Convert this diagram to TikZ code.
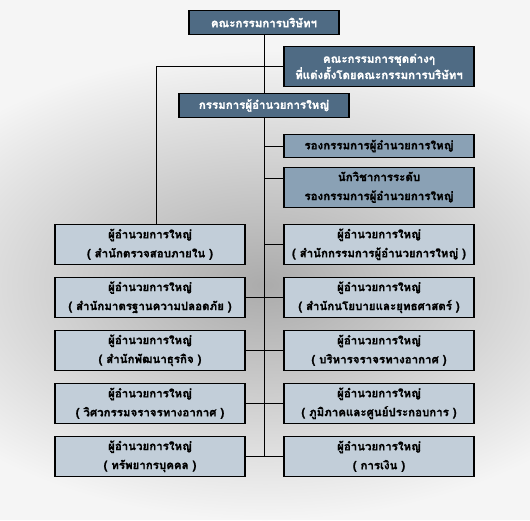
\documentclass[tikz,border=0pt]{standalone}
\usepackage{fontspec}
\newfontfamily\thaifont[Script=Thai,BoldFeatures={FakeBold=1.2}]{Loma}
\definecolor{bgout}{HTML}{F5F5F5}
\definecolor{bgin}{HTML}{ABABAB}
\definecolor{bgmid}{HTML}{CBCBCB}
\definecolor{darkfill}{HTML}{4F6B84}
\definecolor{midfill}{HTML}{8AA1B5}
\definecolor{lightfill}{HTML}{C2CED9}
\pgfdeclareradialshading{bgshade}{\pgfpointorigin}{color(0bp)=(bgin); color(11bp)=(bgmid); color(25bp)=(bgout); color(50bp)=(bgout)}
\tikzset{
  box/.style={draw=black, line width=1.1pt, inner sep=0pt, align=center,
    font=\thaifont\bfseries\fontsize{11.5}{19}\selectfont},
  darkbox/.style={box, fill=darkfill, text=white},
  midbox/.style={box, fill=midfill, text=black, minimum width=190pt},
  lightbox/.style={box, fill=lightfill, text=black, minimum width=190pt, minimum height=40pt},
  conn/.style={draw=black, line width=1pt},
}
\begin{document}
\begin{tikzpicture}[x=1pt,y=-1pt]
\useasboundingbox (0,0) rectangle (530,520);
\fill[bgout] (0,0) rectangle (530,520);
\shade[shading=bgshade] (265,285) ellipse [x radius=400pt, y radius=235pt];

\node[darkbox, minimum width=150pt, minimum height=23.6pt] (b1) at (264,22.5) {คณะกรรมการบริษัทฯ};
\node[darkbox, minimum width=190pt, minimum height=39.6pt,
      font=\thaifont\bfseries\fontsize{11.5}{14.4}\selectfont] (b2) at (379,66.5)
      {คณะกรรมการชุดต่างๆ\\ที่แต่งตั้งโดยคณะกรรมการบริษัทฯ};
\node[darkbox, minimum width=170pt, minimum height=23.6pt] (b3) at (264,105.5) {กรรมการผู้อำนวยการใหญ่};
\node[midbox, minimum height=22.6pt] (b4) at (379,146) {รองกรรมการผู้อำนวยการใหญ่};
\node[midbox, minimum height=40pt] (b5) at (379,187.3) {นักวิชาการระดับ\\รองกรรมการผู้อำนวยการใหญ่};

\node[lightbox] (L1) at (150,244.3) {ผู้อำนวยการใหญ่\\( สำนักตรวจสอบภายใน )};
\node[lightbox] (L2) at (150,297.3) {ผู้อำนวยการใหญ่\\( สำนักมาตรฐานความปลอดภัย )};
\node[lightbox] (L3) at (150,350.3) {ผู้อำนวยการใหญ่\\( สำนักพัฒนาธุรกิจ )};
\node[lightbox] (L4) at (150,403.3) {ผู้อำนวยการใหญ่\\( วิศวกรรมจราจรทางอากาศ )};
\node[lightbox] (L5) at (150,456.3) {ผู้อำนวยการใหญ่\\( ทรัพยากรบุคคล )};

\node[lightbox] (R1) at (379,244.3) {ผู้อำนวยการใหญ่\\( สำนักกรรมการผู้อำนวยการใหญ่ )};
\node[lightbox] (R2) at (379,297.3) {ผู้อำนวยการใหญ่\\( สำนักนโยบายและยุทธศาสตร์ )};
\node[lightbox] (R3) at (379,350.3) {ผู้อำนวยการใหญ่\\( บริหารจราจรทางอากาศ )};
\node[lightbox] (R4) at (379,403.3) {ผู้อำนวยการใหญ่\\( ภูมิภาคและศูนย์ประกอบการ )};
\node[lightbox] (R5) at (379,456.3) {ผู้อำนวยการใหญ่\\( การเงิน )};

\coordinate (lj) at ([xshift=6pt]L1.north |- b2.west);
\coordinate (cb) at (b3.south |- R5.west);
\coordinate (b5in) at ([yshift=9pt]b5.west);

\draw[conn] (b1.south) -- (b3.north);
\draw[conn] (b2.west) -- (lj) -- ([xshift=6pt]L1.north);
\draw[conn] (b3.south) -- (cb);
\draw[conn] (b3.south |- b4.west) -- (b4.west);
\draw[conn] (b3.south |- b5in) -- (b5in);
\draw[conn] (b3.south |- R1.west) -- (R1.west);
\draw[conn] (L2.east) -- (R2.west);
\draw[conn] (L3.east) -- (R3.west);
\draw[conn] (L4.east) -- (R4.west);
\draw[conn] (L5.east) -- (R5.west);
\end{tikzpicture}
\end{document}
